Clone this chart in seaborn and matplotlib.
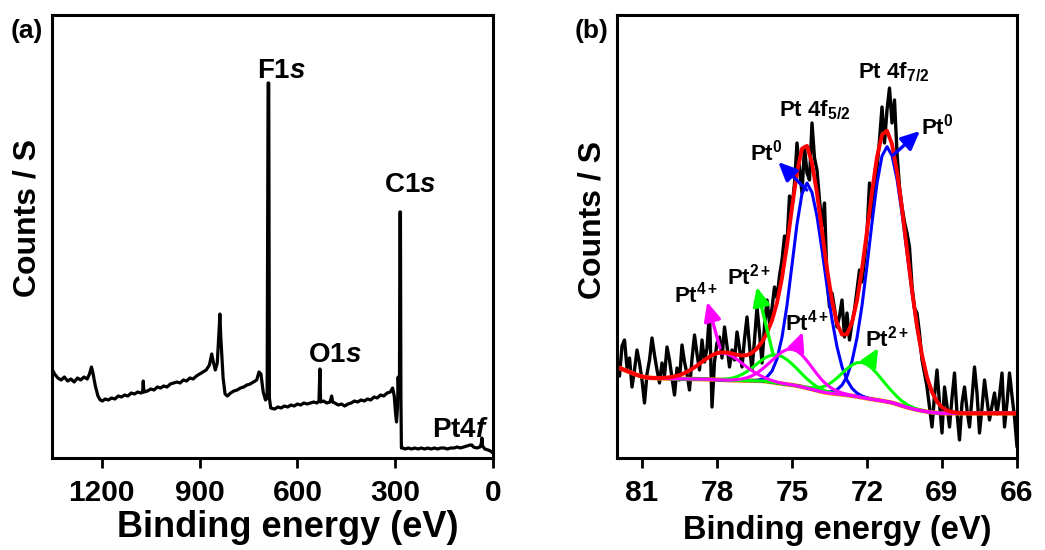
import numpy as np
import matplotlib
matplotlib.use('Agg')
import matplotlib.pyplot as plt
import seaborn as sns

### DATA ###
# (a) survey spectrum, binding energy (eV) and counts (a.u.)
survey_ev = [1353, 1345, 1335, 1325, 1315, 1305, 1295, 1285, 1275, 1265,
             1255, 1245, 1238, 1232, 1228, 1220, 1212, 1205, 1198, 1190,
             1180, 1170, 1160, 1150, 1140, 1130, 1120, 1110, 1100, 1090,
             1080, 1075, 1073, 1071, 1060, 1050, 1040, 1030, 1020, 1010,
             1000, 990, 980, 970, 960, 950, 940, 930, 920, 910,
             900, 890, 880, 870, 863, 858, 852, 846, 840, 838,
             835, 828, 822, 815, 805, 795, 785, 775, 765, 755,
             745, 735, 725, 718, 712, 705, 698, 693, 690, 688,
             686, 682, 670, 660, 650, 640, 630, 620, 610, 600,
             590, 580, 570, 560, 550, 540, 534, 531, 529, 520,
             510, 500, 495, 492, 485, 475, 465, 455, 445, 435,
             425, 415, 405, 395, 385, 375, 365, 355, 345, 335,
             325, 315, 308, 303, 299, 296, 293, 291, 289, 287,
             285.5, 284, 282.5, 281, 276, 270, 260, 250, 240, 230,
             220, 210, 200, 190, 180, 170, 160, 150, 140, 130,
             120, 110, 100, 90, 80, 70, 65, 60, 50, 40,
             36, 34, 32, 25, 15, 8, 3, 1]
survey_counts = [89, 84, 80, 78, 81, 77, 79, 76, 80, 78,
                 81, 79, 84, 91, 86, 72, 62, 58, 57, 59,
                 58, 60, 59, 62, 61, 63, 62, 65, 64, 66,
                 65, 66, 77, 66, 67, 69, 68, 71, 70, 72,
                 71, 74, 75, 76, 75, 78, 77, 80, 79, 82,
                 84, 86, 88, 93, 104, 96, 88, 95, 130, 144,
                 120, 80, 64, 62, 65, 67, 68, 70, 71, 73,
                 74, 76, 78, 86, 84, 66, 58, 60, 375, 375,
                 60, 50, 49, 51, 50, 52, 51, 53, 52, 54,
                 53, 55, 54, 55, 56, 55, 57, 89, 56, 57,
                 55, 56, 62, 56, 55, 53, 54, 52, 54, 55,
                 57, 56, 58, 57, 59, 58, 61, 60, 63, 62,
                 65, 66, 70, 62, 45, 36, 50, 81, 62, 70,
                 246, 246, 60, 10, 10, 9, 10, 9, 10, 9,
                 10, 9, 10, 9, 10, 9, 10, 10, 9, 10,
                 10, 11, 10, 11, 12, 13, 13, 11, 10, 11,
                 14, 20, 12, 9, 8, 7, 6, 5]
survey_ticks = [1200, 900, 600, 300, 0]
# peak labels: text, energy, height of baseline
survey_labels = [('F1$s$', 650, 380), ('C1$s$', 254, 266),
                 ('O1$s$', 484, 96), ('Pt4$f$', 100, 21)]

# (b) Pt 4f raw counts, 82.0 eV down to 66.0 eV in 0.1 eV steps
pt_raw_start, pt_raw_step = 82.0, 0.1
pt_raw_counts = [95, 82, 112, 118, 90, 100, 71, 88, 108, 95,
                 78, 55, 84, 98, 120, 103, 88, 75, 95, 82,
                 111, 98, 80, 63, 90, 78, 113, 96, 84, 68,
                 99, 123, 104, 88, 118, 96, 110, 146, 51, 96,
                 115, 121, 100, 131, 112, 91, 108, 98, 126, 110,
                 91, 119, 141, 112, 88, 118, 151, 125, 95, 132,
                 158, 135, 150, 171, 160, 182, 198, 222, 215, 262,
                 250, 275, 315, 290, 265, 311, 285, 278, 335, 300,
                 288, 258, 232, 255, 178, 151, 165, 150, 131, 142,
                 158, 121, 145, 118, 135, 148, 168, 188, 176, 198,
                 225, 275, 240, 265, 290, 318, 351, 315, 348, 370,
                 335, 358, 305, 271, 251, 236, 225, 211, 172, 150,
                 145, 125, 98, 85, 71, 51, 31, 62, 88, 55,
                 25, 71, 52, 31, 60, 85, 45, 18, 55, 71,
                 48, 31, 60, 91, 65, 25, 50, 78, 58, 38,
                 52, 65, 44, 62, 85, 31, 55, 85, 62, 41,
                 11]

# fitted background, 82.0 eV down to 66.0 eV in 0.2 eV steps
fit_start, fit_step = 82.0, 0.2
fit_background = [91, 89, 87, 85, 83, 81.5, 80.5, 80, 79.8, 79.6,
                  79.5, 79.4, 79.3, 79.2, 79.1, 79, 78.9, 78.8, 78.7, 78.5,
                  78.3, 78.1, 77.9, 77.7, 77.6, 77.5, 77.4, 77.3, 77.2, 77,
                  76.5, 75.8, 75, 74.3, 73.6, 73, 72.2, 71.2, 70, 68.8,
                  67.5, 66.2, 65.3, 64.6, 64, 63.5, 62.9, 62.2, 61.4, 60.5,
                  59.6, 58.8, 58, 57.2, 56.3, 55.3, 53.8, 52.2, 50.7, 49.4,
                  48.2, 47.2, 46.3, 45.6, 45.1, 44.8, 44.7, 44.7, 44.7, 44.7,
                  44.7, 44.7, 44.7, 44.7, 44.7, 44.7, 44.7, 44.7, 44.7, 44.7,
                  44.7]
# fitted components above background: (first energy, values every 0.2 eV)
pt0_52 = (76.6, [0.2, 0.5, 1.7, 4.6, 11.1, 24.1, 46.4, 79.2, 120.0, 161.6, 193.2, 205,
                 196.8, 174.1, 142.0, 106.7, 73.9, 47.2, 27.7, 15.0, 7.5, 3.5, 1.5, 0.6])
pt0_72 = (73.8, [0.3, 0.7, 1.8, 4.3, 9.4, 18.7, 34.5, 58.7, 91.9, 132.7, 176.6, 216.6, 244.8,
                 255, 247.2, 225.0, 192.5, 154.7, 116.7, 82.8, 55.2, 34.5, 20.3, 11.2, 5.8,
                 2.8, 1.3, 0.6, 0.2])
pt2_52 = (78.0, [0.3, 0.6, 1.2, 2.2, 3.8, 6.1, 9.1, 12.8, 17.0, 21.1, 24.7, 27.1, 28,
                 27.1, 24.7, 21.1, 17.0, 12.8, 9.1, 6.1, 3.8, 2.2, 1.2, 0.6, 0.3])
pt2_72 = (74.6, [0.4, 0.8, 1.5, 2.8, 4.7, 7.6, 11.4, 16.0, 21.2, 26.4, 30.9, 33.9, 35,
                 33.9, 30.9, 26.4, 21.2, 16.0, 11.4, 7.6, 4.7, 2.8, 1.5, 0.8, 0.4])
pt4_52 = (80.6, [0.1, 0.3, 0.5, 0.9, 1.7, 2.9, 4.6, 7.0, 10.0, 13.5, 17.3, 21.0, 24.2, 26.3,
                 27, 26.3, 24.2, 21.0, 17.3, 13.5, 10.0, 7.0, 4.6, 2.9, 1.7, 0.9, 0.5, 0.3, 0.1])
pt4_72 = (77.4, [0.4, 0.8, 1.6, 2.9, 4.9, 7.8, 11.7, 16.5, 21.8, 27.2, 31.8, 34.9, 36,
                 34.9, 31.8, 27.2, 21.8, 16.5, 11.7, 7.8, 4.9, 2.9, 1.6, 0.8, 0.4])
pt_ticks = [81, 78, 75, 72, 69, 66]
# labels: text, energy, baseline height
pt_labels = [('Pt 4f$_{5/2}$', 74.08, 342), ('Pt 4f$_{7/2}$', 70.92, 380),
             ('Pt$^{0}$', 76.05, 298), ('Pt$^{0}$', 69.21, 324),
             ('Pt$^{2+}$', 76.73, 174), ('Pt$^{4+}$', 78.84, 156),
             ('Pt$^{4+}$', 74.41, 128), ('Pt$^{2+}$', 71.18, 111)]
# arrows: colour, (energy, height) on curve, (energy, height) of tip
pt_arrows = [('#0000ff', (74.41, 268), (75.55, 296)),
             ('#0000ff', (70.95, 303), (69.88, 327)),
             ('#00ff00', (75.75, 103), (76.41, 171)),
             ('#ff00ff', (77.88, 110), (78.39, 156)),
             ('#ff00ff', (74.81, 110), (74.57, 126)),
             ('#00ff00', (71.95, 93), (71.55, 110))]

### STYLE ###
sns.set_theme(style='ticks')
plt.rcParams['font.family'] = ['Liberation Sans', 'DejaVu Sans']
plt.rcParams['font.weight'] = 'bold'
plt.rcParams['mathtext.fontset'] = 'custom'
plt.rcParams['mathtext.rm'] = 'Liberation Sans:bold'
plt.rcParams['mathtext.it'] = 'Liberation Sans:bold:italic'
plt.rcParams['mathtext.bf'] = 'Liberation Sans:bold'
plt.rcParams['text.color'] = 'black'
plt.rcParams['axes.labelcolor'] = 'black'
plt.rcParams['xtick.color'] = 'black'

fig = plt.figure(figsize=(10.45, 5.5), dpi=100)
ax1 = fig.add_axes([52 / 1045, 92 / 550, 441 / 1045, 443 / 550])
ax2 = fig.add_axes([617 / 1045, 92 / 550, 400 / 1045, 443 / 550])

### PANEL A ###
sns.lineplot(x=survey_ev, y=survey_counts, ax=ax1, color='black', lw=2.3,
             sort=False, estimator=None)
for txt, ev, h in survey_labels:
    ax1.text(ev, h, txt, ha='center', va='baseline', fontsize=20, fontweight='bold')
ax1.set_xlim(1353, 0)
ax1.set_xticks(survey_ticks)

### PANEL B ###
raw_ev = pt_raw_start - pt_raw_step * np.arange(len(pt_raw_counts))
fit_ev = fit_start - fit_step * np.arange(len(fit_background))
bg = np.array(fit_background)

def place(comp):
    """put a component's values on the full fit grid"""
    start, vals = comp
    arr = np.zeros(len(bg))
    i0 = int(round((fit_start - start) / fit_step))
    arr[i0:i0 + len(vals)] = vals
    return arr

comps = {'#0000ff': [pt0_52, pt0_72], '#00ff00': [pt2_52, pt2_72], '#ff00ff': [pt4_52, pt4_72]}
envelope = bg.copy()
for c_list in comps.values():
    for comp in c_list:
        envelope += place(comp)

sns.lineplot(x=raw_ev, y=pt_raw_counts, ax=ax2, color='black', lw=2.4, sort=False, estimator=None)
sns.lineplot(x=fit_ev, y=bg, ax=ax2, color='#ff8000', lw=3.2, sort=False, estimator=None)
for col, c_list in comps.items():
    for comp in c_list:
        sns.lineplot(x=fit_ev, y=bg + place(comp), ax=ax2, color=col, lw=2.2,
                     sort=False, estimator=None)
sns.lineplot(x=fit_ev, y=envelope, ax=ax2, color='#ff0000', lw=2.8, sort=False, estimator=None)

for txt, ev, h in pt_labels:
    ax2.text(ev, h, txt, ha='center', va='baseline', fontsize=16, fontweight='bold')
for col, base, tip in pt_arrows:
    ax2.annotate('', xy=tip, xytext=base,
                 arrowprops=dict(arrowstyle='-|>,head_length=0.7,head_width=0.32', color=col,
                                 lw=2.4, shrinkA=0, shrinkB=0, mutation_scale=16))
ax2.set_xlim(82, 66)
ax2.set_xticks(pt_ticks)

### AXES ###
for ax, xfs, xlab_pos, ylab_pos in [(ax1, 26, (0.534, -0.156), (-0.056, 0.542)),
                                    (ax2, 23.5, (0.551, -0.164), (-0.061, 0.538))]:
    ax.set_ylim(0, 443)
    ax.set_yticks([])
    ax.set_xlabel('Binding energy (eV)', fontsize=xfs, fontweight='bold', va='center')
    ax.set_ylabel('Counts / S', fontsize=23, fontweight='bold', va='center')
    ax.xaxis.set_label_coords(*xlab_pos)
    ax.yaxis.set_label_coords(*ylab_pos)
    ax.tick_params(axis='x', direction='out', length=7, width=2, pad=8,
                   labelsize=21.5, colors='black')
    for sp in ax.spines.values():
        sp.set_visible(True)
        sp.set_linewidth(2.2)
        sp.set_color('black')

fig.text(27 / 1045, 1 - 31 / 550, '(a)', ha='center', va='center', fontsize=19, fontweight='bold')
fig.text(592 / 1045, 1 - 31 / 550, '(b)', ha='center', va='center', fontsize=19, fontweight='bold')

fig.savefig('out.png', dpi=100)
